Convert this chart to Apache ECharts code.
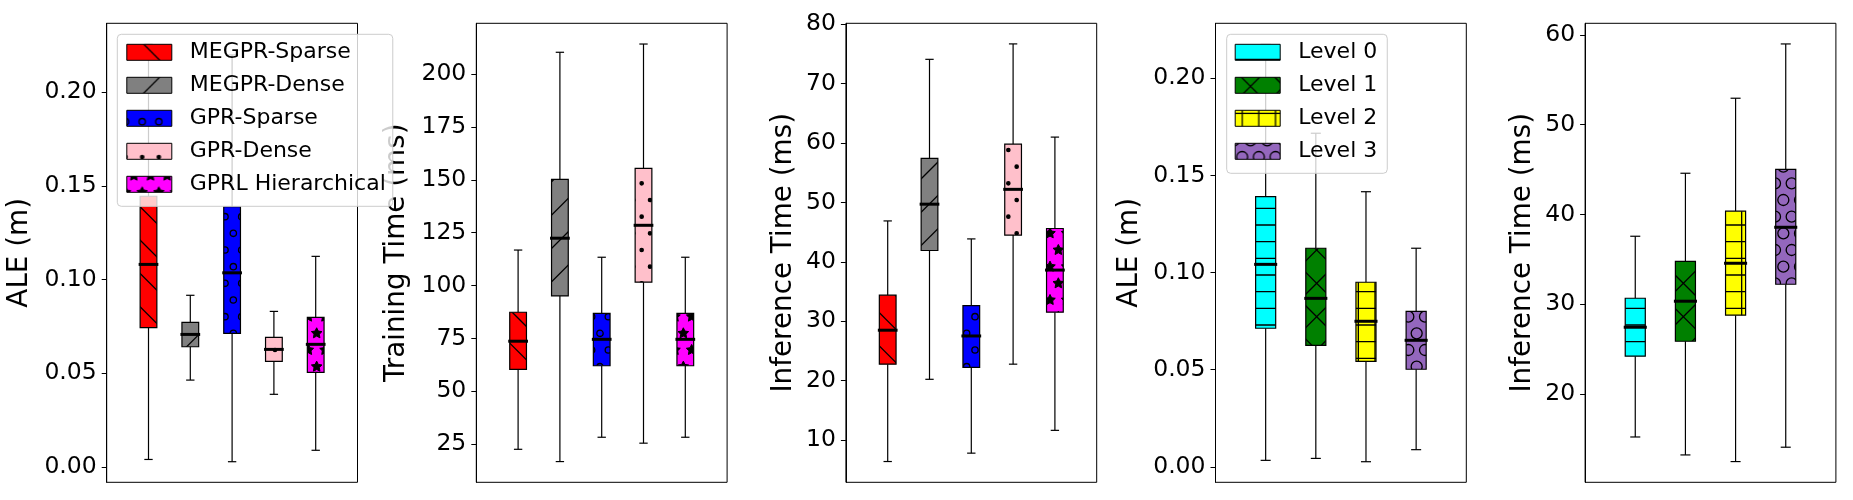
<!DOCTYPE html>
<html>
<head>
<meta charset="utf-8">
<script src="https://cdn.jsdelivr.net/npm/echarts@6/dist/echarts.min.js"></script>
<style>
html,body{margin:0;padding:0;background:#fff;}
#chart{width:1853px;height:500px;}
</style>
</head>
<body>
<div id="chart"></div>
<script>
// ---------------- data ----------------
const methods = ['MEGPR-Sparse', 'MEGPR-Dense', 'GPR-Sparse', 'GPR-Dense', 'GPRL Hierarchical'];
const levels = ['Level 0', 'Level 1', 'Level 2', 'Level 3'];

// five-number summaries: [whisker low, Q1, median, Q3, whisker high]
const aleMethodStats = [
  [0.0039, 0.0743, 0.1081, 0.1445, 0.2257],
  [0.0463, 0.0641, 0.0707, 0.0771, 0.0916],
  [0.0027, 0.0713, 0.1036, 0.1389, 0.2200],
  [0.0387, 0.0563, 0.0627, 0.0691, 0.0830],
  [0.0088, 0.0504, 0.0654, 0.0798, 0.1124]
];
const trainTimeStats = [
  [22.6, 60.4, 73.7, 87.4, 116.8],
  [16.8, 95.1, 122.4, 150.2, 210.3],
  [28.3, 62.1, 74.6, 86.9, 113.4],
  [25.5, 101.6, 128.5, 155.4, 214.2],
  [28.3, 62.1, 74.6, 86.9, 113.4]
];
const inferTimeStats = [
  [6.35, 22.75, 28.47, 34.37, 46.88],
  [20.2, 41.9, 49.7, 57.4, 74.1],
  [7.76, 22.2, 27.5, 32.6, 43.85],
  [22.75, 44.5, 52.2, 59.8, 76.7],
  [11.6, 31.5, 38.6, 45.6, 61.0]
];
const aleLevelStats = [
  [0.0033, 0.0713, 0.1042, 0.1391, 0.2175],
  [0.0043, 0.0625, 0.0867, 0.1125, 0.1717],
  [0.0026, 0.0543, 0.0749, 0.0950, 0.1416],
  [0.0088, 0.0502, 0.0651, 0.0800, 0.1125]
];
const inferLevelStats = [
  [15.2, 24.2, 27.43, 30.66, 37.57],
  [13.2, 25.87, 30.33, 34.78, 44.59],
  [12.46, 28.77, 34.56, 40.36, 52.95],
  [14.06, 32.22, 38.57, 45.03, 59.0]
];

// tick labels
const aleTicks = [0, 0.05, 0.10, 0.15, 0.20];
const trainTicks = [25, 50, 75, 100, 125, 150, 175, 200];
const inferTicks = [10, 20, 30, 40, 50, 60, 70, 80];
const inferLevelTicks = [20, 30, 40, 50, 60];

const axisNames = ['ALE (m)', 'Training Time (ms)', 'Inference Time (ms)', 'ALE (m)', 'Inference Time (ms)'];

// ---------------- styling ----------------
const FONT = 'DejaVu Sans';
const methodColors = ['#ff0000', '#808080', '#0000ff', '#ffc0cb', '#ff00ff'];
const methodHatch = ['\\', '/', 'o', '.', '*'];
const levelColors = ['#00ffff', '#008000', '#ffff00', '#9467bd'];
const levelHatch = ['-', 'x', '+', 'O'];

const TILE = 100;
function makeTile(bg, hatch) {
  const c = document.createElement('canvas');
  c.width = TILE; c.height = TILE;
  const g = c.getContext('2d');
  g.fillStyle = bg; g.fillRect(0, 0, TILE, TILE);
  g.strokeStyle = '#000'; g.fillStyle = '#000'; g.lineWidth = 1.3;
  const step = TILE / 3, half = TILE / 6;
  const line = (x1, y1, x2, y2) => { g.beginPath(); g.moveTo(x1, y1); g.lineTo(x2, y2); g.stroke(); };
  const fwd = () => { for (let k = -2; k <= 8; k++) { const cc = k * step; line(cc + 20, -20, cc - 120, 120); } };
  const back = () => { for (let k = -5; k <= 5; k++) { const cc = k * step; line(-20, -20 - cc, 120, 120 - cc); } };
  const horiz = () => { for (let i = 0; i < 6; i++) { const y = half / 2 + i * half; line(-2, y, TILE + 2, y); } };
  const vert = () => { for (let i = 0; i < 6; i++) { const x = half / 2 + i * half; line(x, -2, x, TILE + 2); } };
  const shapes = (draw) => {
    for (let row = 0; row <= 6; row++) {
      const py = TILE - row * half;
      if (row % 2 === 0) { for (let col = 0; col <= 6; col++) draw(col * half, py); }
      else { for (let col = 0; col < 6; col++) draw((col + 0.5) * half, py); }
    }
  };
  if (hatch === '/') fwd();
  else if (hatch === '\\') back();
  else if (hatch === 'x') { fwd(); back(); }
  else if (hatch === '-') horiz();
  else if (hatch === '+') { horiz(); vert(); }
  else if (hatch === 'o') shapes((x, y) => { g.beginPath(); g.arc(x, y, half * 0.19, 0, Math.PI * 2); g.stroke(); });
  else if (hatch === 'O') shapes((x, y) => { g.beginPath(); g.arc(x, y, half * 0.33, 0, Math.PI * 2); g.stroke(); });
  else if (hatch === '.') shapes((x, y) => { g.beginPath(); g.arc(x, y, half * 0.1, 0, Math.PI * 2); g.fill(); g.stroke(); });
  else if (hatch === '*') shapes((x, y) => {
    const R = half / 3, r = R * 0.5;
    g.beginPath();
    for (let i = 0; i < 10; i++) {
      const a = -Math.PI / 2 + i * Math.PI / 5;
      const rr = i % 2 === 0 ? R : r;
      const px = x + rr * Math.cos(a), py = y + rr * Math.sin(a);
      if (i === 0) g.moveTo(px, py); else g.lineTo(px, py);
    }
    g.closePath(); g.fill(); g.lineWidth = 1.0; g.stroke(); g.lineWidth = 1.3;
  });
  return c;
}
const methodTiles = methods.map((m, i) => makeTile(methodColors[i], methodHatch[i]));
const levelTiles = levels.map((m, i) => makeTile(levelColors[i], levelHatch[i]));
const methodPatterns = methodTiles.map(t => ({ image: t, repeat: 'repeat' }));
const levelPatterns = levelTiles.map(t => ({ image: t, repeat: 'repeat' }));

// ---------------- layout ----------------
const gridLefts = [106.7, 476.3, 845.9, 1215.5, 1585.1];
const GRID_W = 250.8, GRID_TOP = 23.3, GRID_H = 459;
const yLimits = [[-0.0083, 0.2369], [7.0, 224.0], [2.85, 80.17], [-0.0080, 0.2283], [10.15, 61.3]];
const xLimits = [[0, 6], [0, 6], [0, 6], [0, 5], [0, 5]];
const tickSets = [aleTicks, trainTicks, inferTicks, aleTicks, inferLevelTicks];
const nameGaps = [73, 66, 48, 72, 48];
const BOX_W = 0.4;

const grids = gridLefts.map(l => ({
  left: l, top: GRID_TOP, width: GRID_W, height: GRID_H,
  show: true, borderColor: '#000', borderWidth: 1, backgroundColor: 'transparent'
}));
const xAxes = xLimits.map((lim, i) => ({
  type: 'value', gridIndex: i, min: lim[0], max: lim[1],
  axisLine: { show: false }, axisTick: { show: false }, axisLabel: { show: false }, splitLine: { show: false }
}));
const yAxes = yLimits.map((lim, i) => ({
  type: 'value', gridIndex: i, min: lim[0], max: lim[1],
  name: axisNames[i], nameLocation: 'middle', nameGap: nameGaps[i],
  nameTextStyle: { fontFamily: FONT, fontSize: 27.8, color: '#000' },
  axisLine: { show: true, lineStyle: { color: '#000', width: 1 } },
  axisTick: { show: true, length: 5, lineStyle: { color: '#000', width: 1 }, customValues: tickSets[i] },
  axisLabel: {
    show: true, margin: 10, fontFamily: FONT, fontSize: 23.5, color: '#000',
    customValues: tickSets[i],
    formatter: (i === 0 || i === 3) ? (v => Number(v).toFixed(2)) : (v => String(Math.round(v)))
  },
  splitLine: { show: false }
}));

const seriesPatterns = [];
function renderBox(params, api) {
  const x = api.value(0);
  const lo = api.coord([x, api.value(1)]);
  const q1 = api.coord([x, api.value(2)]);
  const md = api.coord([x, api.value(3)]);
  const q3 = api.coord([x, api.value(4)]);
  const hi = api.coord([x, api.value(5)]);
  const w = api.size([BOX_W, 0])[0];
  const cx = lo[0];
  const pat = seriesPatterns[params.seriesIndex];
  const ls = { stroke: '#000', lineWidth: 1.2 };
  return {
    type: 'group',
    children: [
      { type: 'line', shape: { x1: cx, y1: q1[1], x2: cx, y2: lo[1] }, style: ls },
      { type: 'line', shape: { x1: cx, y1: q3[1], x2: cx, y2: hi[1] }, style: ls },
      { type: 'line', shape: { x1: cx - w / 4, y1: lo[1], x2: cx + w / 4, y2: lo[1] }, style: ls },
      { type: 'line', shape: { x1: cx - w / 4, y1: hi[1], x2: cx + w / 4, y2: hi[1] }, style: ls },
      { type: 'rect', shape: { x: cx - w / 2, y: q3[1], width: w, height: q1[1] - q3[1] },
        style: { fill: pat, stroke: '#000', lineWidth: 1.2 } },
      { type: 'line', shape: { x1: cx - w / 2 - 1.5, y1: md[1], x2: cx + w / 2 + 1.5, y2: md[1] },
        style: { stroke: '#000', lineWidth: 3 } }
    ]
  };
}

const panels = [
  { stats: aleMethodStats, names: methods, pats: methodPatterns },
  { stats: trainTimeStats, names: methods, pats: methodPatterns },
  { stats: inferTimeStats, names: methods, pats: methodPatterns },
  { stats: aleLevelStats, names: levels, pats: levelPatterns },
  { stats: inferLevelStats, names: levels, pats: levelPatterns }
];
const series = [];
panels.forEach((p, pi) => {
  p.stats.forEach((s, k) => {
    seriesPatterns.push(p.pats[k]);
    series.push({
      type: 'custom', name: p.names[k], xAxisIndex: pi, yAxisIndex: pi,
      itemStyle: { color: p.pats[k], borderColor: '#000', borderWidth: 1 },
      renderItem: renderBox, clip: false,
      encode: { x: 0, y: [1, 2, 3, 4, 5] },
      data: [[k + 1].concat(s)]
    });
  });
});

// legend icons: hatch tiles anchored to the page origin like the reference
const LEG_ROW = 31, LEG_ICON_TOP = 43.3;
function legendPattern(tile, iconX, row) {
  return { image: tile, repeat: 'repeat', x: -iconX, y: -(LEG_ICON_TOP + row * LEG_ROW) };
}
const legendCommon = {
  orient: 'vertical', selectedMode: false, icon: 'rect',
  itemWidth: 45, itemHeight: 16, itemGap: 11,
  backgroundColor: 'rgba(255,255,255,0.8)', borderColor: '#cccccc', borderWidth: 1, borderRadius: 4,
  textStyle: { fontFamily: FONT, fontSize: 22, color: '#000', lineHeight: 20, padding: [0, 0, 0, 13] },
  itemStyle: { borderColor: '#000', borderWidth: 1 },
  z: 10
};
const legends = [
  Object.assign({}, legendCommon, {
    left: 117.3, top: 34.3, padding: [7, 7, 11, 9],
    data: methods.map((m, i) => ({ name: m, itemStyle: { color: legendPattern(methodTiles[i], 126.3, i), borderColor: '#000', borderWidth: 1 } }))
  }),
  Object.assign({}, legendCommon, {
    left: 1226.7, top: 34.3, padding: [7, 10, 11, 8],
    data: levels.map((m, i) => ({ name: m, itemStyle: { color: legendPattern(levelTiles[i], 1234.7, i), borderColor: '#000', borderWidth: 1 } }))
  })
];

const chart = echarts.init(document.getElementById('chart'), null, { renderer: 'canvas' });
chart.setOption({
  animation: false,
  backgroundColor: '#fff',
  grid: grids, xAxis: xAxes, yAxis: yAxes,
  legend: legends,
  series: series
});
</script>
</body>
</html>
